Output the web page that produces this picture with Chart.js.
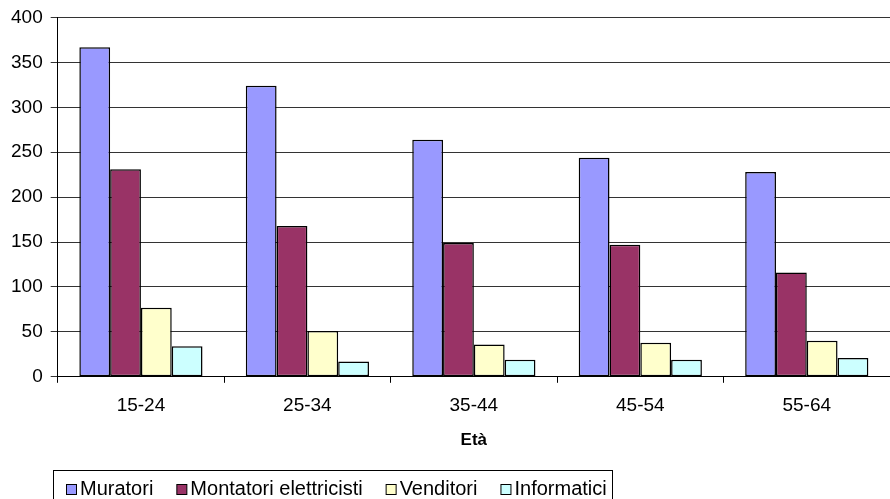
<!DOCTYPE html>
<html>
<head>
<meta charset="utf-8">
<script src="https://cdn.jsdelivr.net/npm/chart.js@4/dist/chart.umd.min.js"></script>
<style>
  html, body { margin: 0; padding: 0; background: #fff; }
  canvas { display: block; }
</style>
</head>
<body>
<canvas id="chart" width="890" height="499"></canvas>
<script>
const ageGroups = ["15-24", "25-34", "35-44", "45-54", "55-64"];
const muratori = [367, 324, 264, 244, 228];
const montatori = [231, 168, 149, 147, 116];
const venditori = [77, 51, 36, 38, 40];
const informatici = [34, 17, 19, 19, 21];
const yTicks = [0, 50, 100, 150, 200, 250, 300, 350, 400];

const FONT = "'Liberation Sans', Arial, sans-serif";

// legend drawn in a box under the chart, like the excel one
const boxLegend = {
    id: "boxLegend",
    afterDraw(chart) {
        const ctx = chart.ctx;
        ctx.save();
        ctx.strokeStyle = "#000";
        ctx.lineWidth = 1;
        ctx.strokeRect(53.5, 470.5, 559, 40);

        ctx.font = "20px " + FONT;
        ctx.textBaseline = "middle";
        let x = 66;
        const y = 489;
        chart.data.datasets.forEach(ds => {
            ctx.fillStyle = ds.backgroundColor;
            ctx.fillRect(x + 0.5, y - 4.5, 10, 10);
            ctx.strokeRect(x + 0.5, y - 4.5, 10, 10);
            ctx.fillStyle = "#000";
            ctx.fillText(ds.label, x + 14, y);
            x += 14 + ctx.measureText(ds.label).width + 23;
        });
        ctx.restore();
    }
};

new Chart(document.getElementById("chart"), {
    type: "bar",
    data: {
        labels: ageGroups,
        datasets: [
            {label: "Muratori", data: muratori, backgroundColor: "#9999FF"},
            {label: "Montatori elettricisti", data: montatori, backgroundColor: "#993366"},
            {label: "Venditori", data: venditori, backgroundColor: "#FFFFCC"},
            {label: "Informatici", data: informatici, backgroundColor: "#CCFFFF"}
        ].map(ds => Object.assign(ds, {
            borderColor: "#000",
            borderWidth: 1.5,
            borderSkipped: false,
            categoryPercentage: 0.74,
            barPercentage: 1
        }))
    },
    options: {
        responsive: false,
        animation: false,
        devicePixelRatio: 1,
        layout: {padding: {top: 16, right: 0, bottom: 48, left: 3}},
        plugins: {
            legend: {display: false},
            tooltip: {enabled: false}
        },
        scales: {
            x: {
                grid: {offset: true, drawOnChartArea: false, drawTicks: true, tickLength: 6, color: "#000"},
                border: {color: "#000", width: 1},
                ticks: {color: "#000", padding: 12, font: {family: FONT, size: 19}},
                title: {
                    display: true,
                    text: "Età",
                    color: "#000",
                    font: {family: FONT, size: 17, weight: "bold"},
                    padding: {top: 1, bottom: 0}
                }
            },
            y: {
                min: 0,
                max: 400,
                afterBuildTicks: axis => { axis.ticks = yTicks.map(v => ({value: v})); },
                grid: {color: "#333", tickLength: 7},
                border: {color: "#000", width: 1},
                ticks: {color: "#000", padding: 8, font: {family: FONT, size: 19, lineHeight: 1}}
            }
        }
    },
    plugins: [boxLegend]
});
</script>
</body>
</html>
